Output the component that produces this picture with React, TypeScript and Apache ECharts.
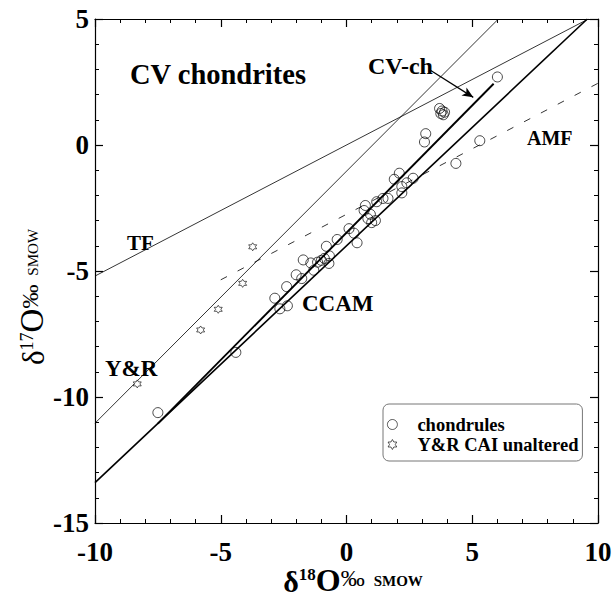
import React, { useEffect, useRef } from 'react';
import * as echarts from 'echarts';

const FONT = '"Liberation Serif", "Times New Roman", Times, serif';

// axis ticks
const xTicks = [-10, -5, 0, 5, 10];
const yTicks = [-15, -10, -5, 0, 5];

// chondrule analyses [d18O, d17O]
const chondrules: [number, number][] = [
  [6.0, 2.7],
  [3.7, 1.45], [3.8, 1.35], [3.9, 1.3], [3.75, 1.25], [3.85, 1.2],
  [3.15, 0.45], [3.1, 0.12],
  [5.3, 0.17],
  [4.35, -0.73],
  [2.1, -1.12], [1.9, -1.36], [2.65, -1.32], [2.4, -1.5], [2.2, -1.65], [2.2, -1.9],
  [1.65, -2.12], [1.45, -2.12], [1.2, -2.25], [0.75, -2.4], [0.7, -2.6], [0.95, -2.75],
  [0.85, -2.92], [1.0, -3.08], [1.15, -3.0],
  [0.1, -3.32], [0.3, -3.5], [0.42, -3.88], [-0.37, -3.75], [-0.8, -4.02],
  [-0.68, -4.4], [-0.88, -4.5], [-0.7, -4.7], [-1.0, -4.58], [-1.15, -4.65], [-1.42, -4.68],
  [-1.72, -4.56], [-1.3, -4.97],
  [-2.0, -5.15], [-1.78, -5.3], [-2.38, -5.62], [-2.85, -6.08], [-2.65, -6.5], [-2.35, -6.38],
  [-4.4, -8.23], [-7.5, -10.62],
];

// Young & Russell unaltered CAIs
const cais: [number, number][] = [
  [-3.73, -4.04], [-4.13, -5.49], [-5.1, -6.52], [-5.8, -7.34], [-8.32, -9.48],
];

// reference lines (end points)
const tfLine = [[-10, -5.2], [9.615, 5]];
const yrLine = [[-10, -11.04], [6.04, 5]];
const ccamLine = [[-10, -13.4], [9.574, 5]];
const cvchLine = [[-7.5, -11.055], [5.85, 2.43]];
const amfLine = [[-5.0, -5.35], [10, 2.45]];
const cvchArrow = [[3.32, 2.98], [5.04, 1.89]];

const HEXAGRAM =
  'path://M0,-10 L2.887,-5 L8.66,-5 L5.774,0 L8.66,5 L2.887,5 L0,10 L-2.887,5 L-8.66,5 L-5.774,0 L-8.66,-5 L-2.887,-5 Z';

function axisBase(min: number, max: number, ticks: number[], showLabel: boolean, isX: boolean) {
  return {
    type: 'value',
    min,
    max,
    interval: 5,
    axisLine: { show: true, onZero: false, lineStyle: { color: '#000', width: 1.2 } },
    axisTick: { show: true, inside: true, length: 8, lineStyle: { color: '#000', width: 1.2 } },
    minorTick: { show: true, splitNumber: 5, length: 4, lineStyle: { color: '#000', width: 1 } },
    splitLine: { show: false },
    minorSplitLine: { show: false },
    axisLabel: {
      show: showLabel,
      fontFamily: FONT,
      fontSize: 27,
      fontWeight: 'bold',
      color: '#000',
      margin: isX ? 15 : 6,
      formatter: (v: number) => (ticks.includes(v) ? String(v) : ''),
    },
  };
}

function lineSeries(name: string, data: number[][], width: number, extra: any = {}) {
  return {
    name,
    type: 'line',
    data,
    symbol: 'none',
    silent: true,
    z: 2,
    lineStyle: { color: '#000', width, ...(extra.lineStyle || {}) },
    ...(extra.markLine ? { markLine: extra.markLine } : {}),
  };
}

function label(text: string, x: number, y: number, size: number) {
  return {
    type: 'text',
    x,
    y,
    style: {
      text,
      fill: '#000',
      fontFamily: FONT,
      fontSize: size,
      fontWeight: 'bold',
      align: 'left',
      verticalAlign: 'middle',
    },
  };
}

export default function App() {
  const ref = useRef<HTMLDivElement>(null);

  useEffect(() => {
    document.body.style.margin = '0';
    const chart = echarts.init(ref.current!, null, { renderer: 'svg' });
    const option: any = {
      animation: false,
      backgroundColor: '#fff',
      grid: { left: 95, right: 17, top: 19, bottom: 74, containLabel: false },
      xAxis: [
        { ...axisBase(-10, 10, xTicks, true, true), position: 'bottom' },
        { ...axisBase(-10, 10, xTicks, false, true), position: 'top' },
      ],
      yAxis: [
        { ...axisBase(-15, 5, yTicks, true, false), position: 'left' },
        { ...axisBase(-15, 5, yTicks, false, false), position: 'right' },
      ],
      legend: {
        data: ['chondrules', 'Y&R CAI unaltered'],
        orient: 'vertical',
        left: 383,
        top: 404,
        padding: [11, 4, 7, 4],
        itemGap: 1,
        itemWidth: 10,
        itemHeight: 10,
        backgroundColor: '#fff',
        borderColor: '#777',
        borderWidth: 1,
        borderRadius: 6,
        itemStyle: { borderWidth: 0.8 },
        textStyle: {
          fontFamily: FONT,
          fontSize: 18.5,
          fontWeight: 'bold',
          color: '#000',
          lineHeight: 17,
          padding: [0, 0, 0, 15],
        },
      },
      series: [
        lineSeries('TF', tfLine, 0.8),
        lineSeries('Y&R line', yrLine, 0.8),
        lineSeries('CCAM', ccamLine, 1.6),
        lineSeries('CV-ch', cvchLine, 1.9, {
          markLine: {
            silent: true,
            symbol: ['none', 'arrow'],
            symbolSize: [7, 11],
            label: { show: false },
            lineStyle: { color: '#000', width: 1.2, type: 'solid' },
            data: [[{ coord: cvchArrow[0] }, { coord: cvchArrow[1] }]],
          },
        }),
        lineSeries('AMF', amfLine, 0.8, { lineStyle: { type: [7, 12] } }),
        {
          name: 'chondrules',
          type: 'scatter',
          data: chondrules,
          symbol: 'circle',
          symbolSize: 10,
          z: 3,
          itemStyle: { color: 'rgba(255,255,255,0)', borderColor: '#000', borderWidth: 0.9 },
        },
        {
          name: 'Y&R CAI unaltered',
          type: 'scatter',
          data: cais,
          symbol: HEXAGRAM,
          symbolSize: 8,
          z: 3,
          itemStyle: { color: '#fff', borderColor: '#000', borderWidth: 0.8 },
        },
      ],
      graphic: [
        label('CV chondrites', 130, 74, 28.5),
        label('CV-ch', 368, 66, 24),
        label('AMF', 527, 138, 20),
        label('TF', 127, 243, 21),
        label('CCAM', 302, 303, 23),
        label('Y&R', 105, 368, 23),
        {
          type: 'text',
          x: 353,
          y: 566,
          style: {
            text: '{d|δ}{s|18}{o|O}{p|‰}{m|SMOW}',
            fill: '#000',
            align: 'center',
            verticalAlign: 'top',
            fontFamily: FONT,
            rich: {
              d: { fontFamily: FONT, fontSize: 30, fontWeight: 'bold', lineHeight: 30, verticalAlign: 'bottom', fill: '#000' },
              s: { fontFamily: FONT, fontSize: 17, fontWeight: 'bold', lineHeight: 17, verticalAlign: 'top', fill: '#000' },
              o: { fontFamily: FONT, fontSize: 32, fontWeight: 'bold', lineHeight: 30, verticalAlign: 'bottom', fill: '#000' },
              p: { fontFamily: FONT, fontSize: 24, lineHeight: 24, verticalAlign: 'top', fill: '#000' },
              m: { fontFamily: FONT, fontSize: 15, fontWeight: 'bold', lineHeight: 15, verticalAlign: 'middle', fill: '#000', padding: [0, 0, 0, 9] },
            },
          },
        },
        {
          type: 'text',
          x: 33,
          y: 297,
          rotation: Math.PI / 2,
          style: {
            text: '{d|δ}{s|17}{o|O}{p|‰}{m|SMOW}',
            fill: '#000',
            align: 'center',
            verticalAlign: 'middle',
            fontFamily: FONT,
            rich: {
              d: { fontFamily: FONT, fontSize: 31, lineHeight: 31, verticalAlign: 'bottom', fill: '#000' },
              s: { fontFamily: FONT, fontSize: 18, lineHeight: 18, verticalAlign: 'top', fill: '#000' },
              o: { fontFamily: FONT, fontSize: 33, lineHeight: 31, verticalAlign: 'bottom', fill: '#000' },
              p: { fontFamily: FONT, fontSize: 24, lineHeight: 24, verticalAlign: 'top', fill: '#000' },
              m: { fontFamily: FONT, fontSize: 15, lineHeight: 15, verticalAlign: 'middle', fill: '#000', padding: [0, 0, 0, 9] },
            },
          },
        },
      ],
    };
    chart.setOption(option);
    return () => chart.dispose();
  }, []);

  return <div ref={ref} style={{ width: 615, height: 597 }} />;
}
